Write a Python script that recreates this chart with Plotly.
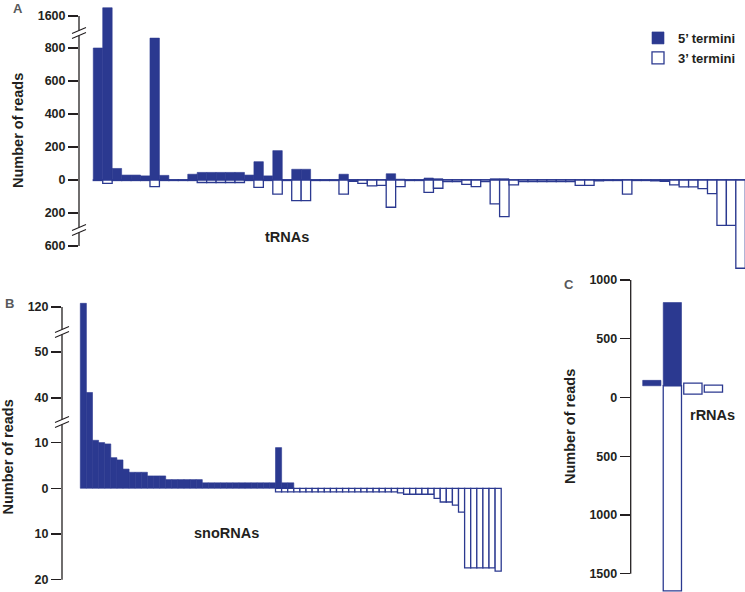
import plotly.graph_objects as go

W, H = 745, 592
BLUE = "#2B3990"
INK = "#231F20"
GREY = "#58595B"
FONT = "Liberation Sans, Arial, sans-serif"

# ---------------- data ----------------
# Panel A: tRNAs (69 tRNAs)
trna_5p = [800, 1650, 70, 30, 30, 25, 860, 28, 3, 3, 35, 46, 46, 46, 46, 46, 30, 111, 25, 178,
           3, 65, 65, 3, 3, 3, 35, 3, 3, 3, 3, 38, 5, 3, 3, 12, 8, 3, 3, 3,
           3, 3, 8, 8, 3, 3, 3, 3, 3, 3, 3, 3, 3, 3, 3, 3, 3, 3, 3, 3,
           3, 3, 3, 3, 3, 3, 3, 3, 3]
trna_3p = [-3, -20, -3, -3, -3, -3, -40, -3, -3, -3, -3, -15, -15, -15, -15, -15, -3, -45, -3, -85,
           -3, -125, -125, -3, -3, -3, -85, -8, -20, -36, -33, -165, -40, -3, -3, -75, -50, -10, -10, -26,
           -40, -10, -145, -222, -30, -10, -10, -10, -10, -10, -10, -33, -33, -5, -3, -3, -85, -3, -3, -5,
           -8, -30, -42, -42, -52, -83, -275, -275, -735]
trna_idx = list(range(len(trna_5p)))

# Panel B: snoRNAs (69 snoRNAs)
sno_5p = ([120.8, 41.2, 10.5, 10.0, 9.7, 6.7, 6.2, 4.2, 3.5, 3.5, 3.5, 2.7, 2.7, 2.7]
          + [1.9] * 6 + [1.2] * 12 + [8.9, 1.2, 1.2] + [None] * 34)
sno_3p = ([None] * 32 + [-0.8] * 20 + [-1.0] + [-1.3] * 5 + [-2.2, -3.0, -3.0, -3.7, -5.2]
          + [-17.4] * 5 + [-18.1])
sno_idx = list(range(len(sno_5p)))

# Panel C: rRNAs (4 rRNAs), bars given by top / bottom
rrna_idx = [0, 1, 2, 3]
rrna_5p_top = [146, 808, None, None]
rrna_5p_bottom = [100, 100, None, None]
rrna_3p_top = [None, 100, 123, 105]
rrna_3p_bottom = [None, -1645, 29, 46]

# tick labels
a_up_ticks, a_up_text = [1600], ["1600"]
a_mid_ticks, a_mid_text = [800, 600, 400, 200, 0, -200], ["800", "600", "400", "200", "0", "200"]
a_low_ticks, a_low_text = [-600], ["600"]
b_up_ticks, b_up_text = [120], ["120"]
b_mid_ticks, b_mid_text = [50, 40], ["50", "40"]
b_low_ticks, b_low_text = [10, 0, -10, -20], ["10", "0", "10", "20"]
c_ticks, c_text = [1000, 500, 0, -500, -1000, -1500], ["1000", "500", "0", "500", "1000", "1500"]


def px(x):
    return x / W


def py(y):
    return 1 - y / H


# ---------------- figure ----------------
fig = go.Figure()


def add_pair(xs, v5, v3, xa, ya, width, legend=False, base5=None, base3=None):
    fig.add_trace(go.Bar(x=xs, y=v5, base=base5, xaxis=xa, yaxis=ya, width=width,
                         marker=dict(color=BLUE, line=dict(color=BLUE, width=0.6)),
                         name="5\u2019 termini", showlegend=legend, legendgroup="5p"))
    fig.add_trace(go.Bar(x=xs, y=v3, base=base3, xaxis=xa, yaxis=ya, width=width,
                         marker=dict(color="white", line=dict(color=BLUE, width=1.3)),
                         name="3\u2019 termini", showlegend=legend, legendgroup="3p"))


# panel A (three stacked segments of a broken axis)
for ya, leg in (("y", True), ("y2", False), ("y3", False)):
    add_pair(trna_idx, trna_5p, trna_3p, "x", ya, 1.0, legend=leg)
# panel B
for ya in ("y4", "y5", "y6"):
    add_pair(sno_idx, sno_5p, sno_3p, "x2", ya, 1.0)
# panel C
c5 = [None if t is None else t - b for t, b in zip(rrna_5p_top, rrna_5p_bottom)]
c3 = [None if t is None else b - t for t, b in zip(rrna_3p_top, rrna_3p_bottom)]
add_pair(rrna_idx, c5, c3, "x3", "y7", 0.89, base5=rrna_5p_bottom, base3=rrna_3p_top)

tickfont = dict(family=FONT, size=12.5, color=INK, weight="bold")


def yax(dom, rng, tv, tt, anchor):
    return dict(domain=dom, range=rng, anchor=anchor, tickvals=tv, ticktext=tt,
                ticks="outside", ticklen=10, tickwidth=1.3, tickcolor=INK,
                showline=False, showgrid=False, zeroline=False, tickfont=tickfont,
                fixedrange=True, automargin=False)


def xax(dom, rng, anchor):
    return dict(domain=dom, range=rng, anchor=anchor, showline=False, showgrid=False,
                zeroline=False, showticklabels=False, ticks="", fixedrange=True,
                automargin=False)


# pixel geometry
AX_A, AX_B, AX_C = 79, 62, 630.7
fig.update_layout(
    xaxis=xax([px(AX_A), 1], [-2.01, 68.47], "y"),
    yaxis=yax([py(230), py(33)], [-303, 891], a_mid_ticks, a_mid_text, "x"),
    yaxis2=yax([py(33), py(0)], [1497, 1697], a_up_ticks, a_up_text, "x"),
    yaxis3=yax([py(275), py(230)], [-776, -503], a_low_ticks, a_low_text, "x"),
    xaxis2=xax([px(AX_B), px(520)], [-3.5, 71.58], "y4"),
    yaxis4=yax([py(582), py(422)], [-20.5, 14.5], b_low_ticks, b_low_text, "x2"),
    yaxis5=yax([py(422), py(332)], [34.78, 54.35], b_mid_ticks, b_mid_text, "x2"),
    yaxis6=yax([py(332), py(302)], [114.57, 121.09], b_up_ticks, b_up_text, "x2"),
    xaxis3=xax([px(AX_C), 1], [-1.03, 4.54], "y7"),
    yaxis7=yax([py(592), py(280)], [-1655, 1000], c_ticks, c_text, "x3"),
)

shapes = []


def vline(x, yref, y0, y1):
    shapes.append(dict(type="line", xref="paper", yref=yref, x0=px(x), x1=px(x), y0=y0, y1=y1,
                       line=dict(color=INK, width=1.3)))


# axis lines per segment
vline(AX_A, "y2", 1600, 1497)
vline(AX_A, "y", 891, -303)
vline(AX_A, "y3", -503, -600)
vline(AX_B, "y6", 120, 114.57)
vline(AX_B, "y5", 54.35, 34.78)
vline(AX_B, "y4", 14.5, -20)
vline(AX_C, "y7", 1000, -1500)


def brk(ax, yc):
    shapes.append(dict(type="rect", xref="paper", yref="paper", x0=px(ax - 2), x1=px(ax + 2),
                       y0=py(yc + 2.5), y1=py(yc - 2.5), fillcolor="white", line=dict(width=0)))
    for d in (-2.5, 2.5):
        shapes.append(dict(type="line", xref="paper", yref="paper",
                           x0=px(ax - 7), x1=px(ax + 7), y0=py(yc + d + 3), y1=py(yc + d - 3),
                           line=dict(color=INK, width=1.1)))


brk(AX_A, 33)
brk(AX_A, 230)
brk(AX_B, 332)
brk(AX_B, 422)

ann = []


def text(x, y, s, size=14.5, color=INK, angle=0):
    ann.append(dict(x=px(x), y=py(y), xref="paper", yref="paper", text=s, showarrow=False,
                    textangle=angle, xanchor="center", yanchor="middle",
                    font=dict(family=FONT, size=size, color=color, weight="bold")))


text(18, 131, "Number of reads", angle=-90)
text(7.5, 457, "Number of reads", angle=-90)
text(570, 427, "Number of reads", angle=-90)
text(287, 237, "tRNAs")
text(226, 533, "snoRNAs")
text(712, 415, "rRNAs")
text(18, 8.5, "A", size=13, color=GREY)
text(9, 303, "B", size=13, color=GREY)
text(569, 284, "C", size=13, color=GREY)

fig.update_layout(
    width=W, height=H, autosize=False,
    margin=dict(l=0, r=0, t=0, b=0, pad=0, autoexpand=False),
    paper_bgcolor="white", plot_bgcolor="rgba(0,0,0,0)",
    barmode="overlay", bargap=0,
    shapes=shapes, annotations=ann,
    showlegend=True,
    legend=dict(x=px(638), y=py(23), xanchor="left", yanchor="top", traceorder="normal",
                bgcolor="rgba(0,0,0,0)", borderwidth=0,
                font=dict(family=FONT, size=13, color=INK, weight="bold")),
)

fig.write_html("out.html", config={"displayModeBar": False, "staticPlot": True},
               post_script="document.body.style.margin='0';document.body.style.overflow='hidden';")
